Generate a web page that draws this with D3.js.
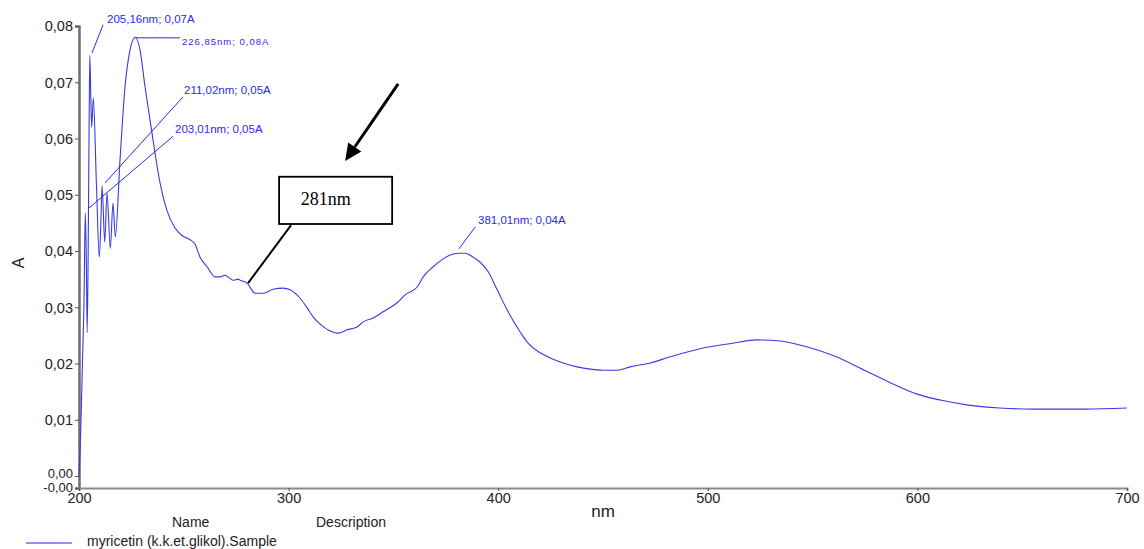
<!DOCTYPE html>
<html><head><meta charset="utf-8">
<script src="https://cdn.jsdelivr.net/npm/d3@7"></script>
<style>body{margin:0;background:#fff}svg{display:block}</style>
</head><body>
<svg id="c" width="1144" height="549"></svg>
<script>
// wavelength (nm) and absorbance (A)
const wavelength = [200.0,200.8,201.6,202.4,203.01,203.5,203.9,204.4,204.8,205.16,205.6,206.06,206.83,208.3,209.69,210.5,211.02,212.27,213.37,214.94,216.23,217.33,219.57,221.96,224.34,226.85,229.12,231.5,233.89,236.28,238.66,241.86,245.82,249.02,252.98,255.37,257.76,261.1,264.92,267.3,269.69,271.12,273.51,275.89,276.85,280.19,284.01,287.83,292.6,297.37,300.72,305.49,308.83,311.69,315.04,319.81,323.63,327.92,332.7,335.56,340.33,345.11,351.79,355.61,361.34,364.2,368.97,373.75,377.09,381.01,384.25,388.07,391.41,395.23,399.52,404.3,410.5,413.84,420.05,424.82,431.03,437.71,443.91,450.12,456.8,463.01,472.55,482.1,498.33,511.69,523.15,534.61,547.97,561.34,574.7,587.59,599.52,610.98,624.34,639.14,655.37,680.19,700.0];
const absorbance = [0.0,0.0076,0.0194,0.0313,0.0468,0.038,0.0255,0.041,0.061,0.0748,0.068,0.062,0.0672,0.052,0.0389,0.046,0.0516,0.0416,0.0503,0.0405,0.0485,0.0425,0.0562,0.0692,0.0757,0.078,0.0757,0.0692,0.0633,0.0574,0.0521,0.0473,0.0441,0.0428,0.042,0.0412,0.0389,0.0372,0.0354,0.0354,0.0357,0.0354,0.0348,0.035,0.0348,0.0343,0.0325,0.0325,0.0332,0.0334,0.0331,0.0316,0.0299,0.0283,0.027,0.0258,0.0254,0.026,0.0265,0.0274,0.0281,0.0292,0.0308,0.0322,0.0336,0.0354,0.0372,0.0386,0.0393,0.0396,0.0396,0.0389,0.038,0.0363,0.0331,0.0295,0.0256,0.0238,0.0219,0.021,0.0201,0.0194,0.019,0.0188,0.0188,0.0194,0.0201,0.0212,0.0228,0.0236,0.0242,0.024,0.0229,0.0212,0.0188,0.0165,0.0146,0.0135,0.0126,0.0121,0.0119,0.0119,0.0121];
const xTicks = [200,300,400,500,600,700];
const yTicks = [-0.00213,0,0.01,0.02,0.03,0.04,0.05,0.06,0.07,0.08];
const peakLabels = ["205,16nm; 0,07A","226,85nm; 0,08A","211,02nm; 0,05A","203,01nm; 0,05A","381,01nm; 0,04A"];
const peakFrom = [[206.2,0.0752],[226.85,0.0779],[212.41,0.0521],[204.3,0.0475],[381.3,0.0404]];
const peakTo   = [[211.46,0.0802],[248.2,0.0779],[249.64,0.0674],[244.87,0.0604],[389.1,0.0443]];
const peakText = [[213.37,0.0805],[249.16,0.0766],[250.1,0.0680],[245.8,0.0609],[390.4,0.0448]];
const legendName = "myricetin (k.k.et.glikol).Sample";

const svg = d3.select("#c");
const x = d3.scaleLinear().domain([200,700]).range([79,1127]);
const y = d3.scaleLinear().domain([-0.00213,0.08]).range([488,26]);
const fmt = v => (v < 0 ? "-0,00" : d3.format(".2f")(v).replace(".", ","));
const font = "'Liberation Sans', Arial, sans-serif";

// axes
const gy = svg.append("g").attr("transform","translate(79,0)")
  .call(d3.axisLeft(y).tickValues(yTicks).tickFormat(fmt).tickSize(4).tickPadding(2));
const gx = svg.append("g").attr("transform","translate(0,488)")
  .call(d3.axisBottom(x).tickValues(xTicks).tickFormat(d3.format("d")).tickSize(3).tickPadding(2));
gy.select(".domain").attr("stroke","#6e6e6e").attr("stroke-width",2.5);
gx.select(".domain").attr("stroke","#8a8a8a").attr("stroke-width",2);
[gx,gy].forEach(g=>{
  g.selectAll(".tick line").attr("stroke","#555").attr("stroke-width",1);
  g.selectAll("text").attr("font-family",font).attr("font-size",14.5).attr("fill","#222");
});
gy.selectAll("text").attr("dy","0.33em");
gy.selectAll(".tick text").filter(d => d <= 0).attr("font-size",13)
  .attr("dy", d => d < 0 ? "0.25em" : "0.15em");

// curve
const line = d3.line().curve(d3.curveMonotoneX).x((d,i)=>x(wavelength[i])).y((d,i)=>y(absorbance[i]));
svg.append("path").datum(absorbance).attr("d",line)
  .attr("fill","none").attr("stroke","#3a3ae2").attr("stroke-width",1.1).attr("stroke-linejoin","round");

// peak annotations
peakLabels.forEach((t,i)=>{
  svg.append("line").attr("x1",x(peakFrom[i][0])).attr("y1",y(peakFrom[i][1]))
    .attr("x2",x(peakTo[i][0])).attr("y2",y(peakTo[i][1]))
    .attr("stroke","#2a2af0").attr("stroke-width",1);
  svg.append("text").attr("x",x(peakText[i][0])).attr("y",y(peakText[i][1]))
    .attr("font-family",font).attr("font-size", i===1?9.5:11.5)
    .attr("letter-spacing", i===1?1:0)
    .attr("fill","#2a2af0").text(t);
});

// 281nm callout box
const bx0 = x(295.47), bx1 = x(349.4), by0 = y(0.0532), by1 = y(0.0448);
svg.append("line").attr("x1",x(301.19)).attr("y1",y(0.0446)).attr("x2",x(280.67)).attr("y2",y(0.0343))
  .attr("stroke","#000").attr("stroke-width",2);
svg.append("rect").attr("x",bx0).attr("y",by0).attr("width",bx1-bx0).attr("height",by1-by0)
  .attr("fill","#fff").attr("stroke","#000").attr("stroke-width",1.8);
svg.append("text").attr("x",x(305.8)).attr("y",y(0.0481)).attr("font-family","'Liberation Serif', 'Times New Roman', serif")
  .attr("font-size",18).attr("fill","#000").text("281nm");

// arrow
const ax0 = x(352.27), ay0 = y(0.0697), ax1 = x(326.97), ay1 = y(0.056);
const ang = Math.atan2(ay1-ay0, ax1-ax0);
const hl = 17, hw = 8;
const bxp = ax1 - hl*Math.cos(ang), byp = ay1 - hl*Math.sin(ang);
svg.append("line").attr("x1",ax0).attr("y1",ay0).attr("x2",bxp).attr("y2",byp)
  .attr("stroke","#000").attr("stroke-width",3);
svg.append("path").attr("d",`M${ax1},${ay1}L${bxp+hw*Math.sin(ang)},${byp-hw*Math.cos(ang)}L${bxp-hw*Math.sin(ang)},${byp+hw*Math.cos(ang)}Z`)
  .attr("fill","#000");

// axis titles
svg.append("text").attr("transform","translate(24,263) rotate(-90)").attr("text-anchor","middle")
  .attr("font-family",font).attr("font-size",16).attr("fill","#222").text("A");
svg.append("text").attr("x",603).attr("y",517).attr("text-anchor","middle")
  .attr("font-family",font).attr("font-size",17).attr("fill","#222").text("nm");

// legend
svg.append("text").attr("x",172).attr("y",527).attr("font-family",font).attr("font-size",14).attr("fill","#222").text("Name");
svg.append("text").attr("x",316).attr("y",527).attr("font-family",font).attr("font-size",14).attr("fill","#222").text("Description");
svg.append("line").attr("x1",26).attr("x2",72).attr("y1",543).attr("y2",543).attr("stroke","#7070e8").attr("stroke-width",1.5);
svg.append("text").attr("x",87).attr("y",546).attr("font-family",font).attr("font-size",14).attr("fill","#222").text(legendName);
</script>
</body></html>
